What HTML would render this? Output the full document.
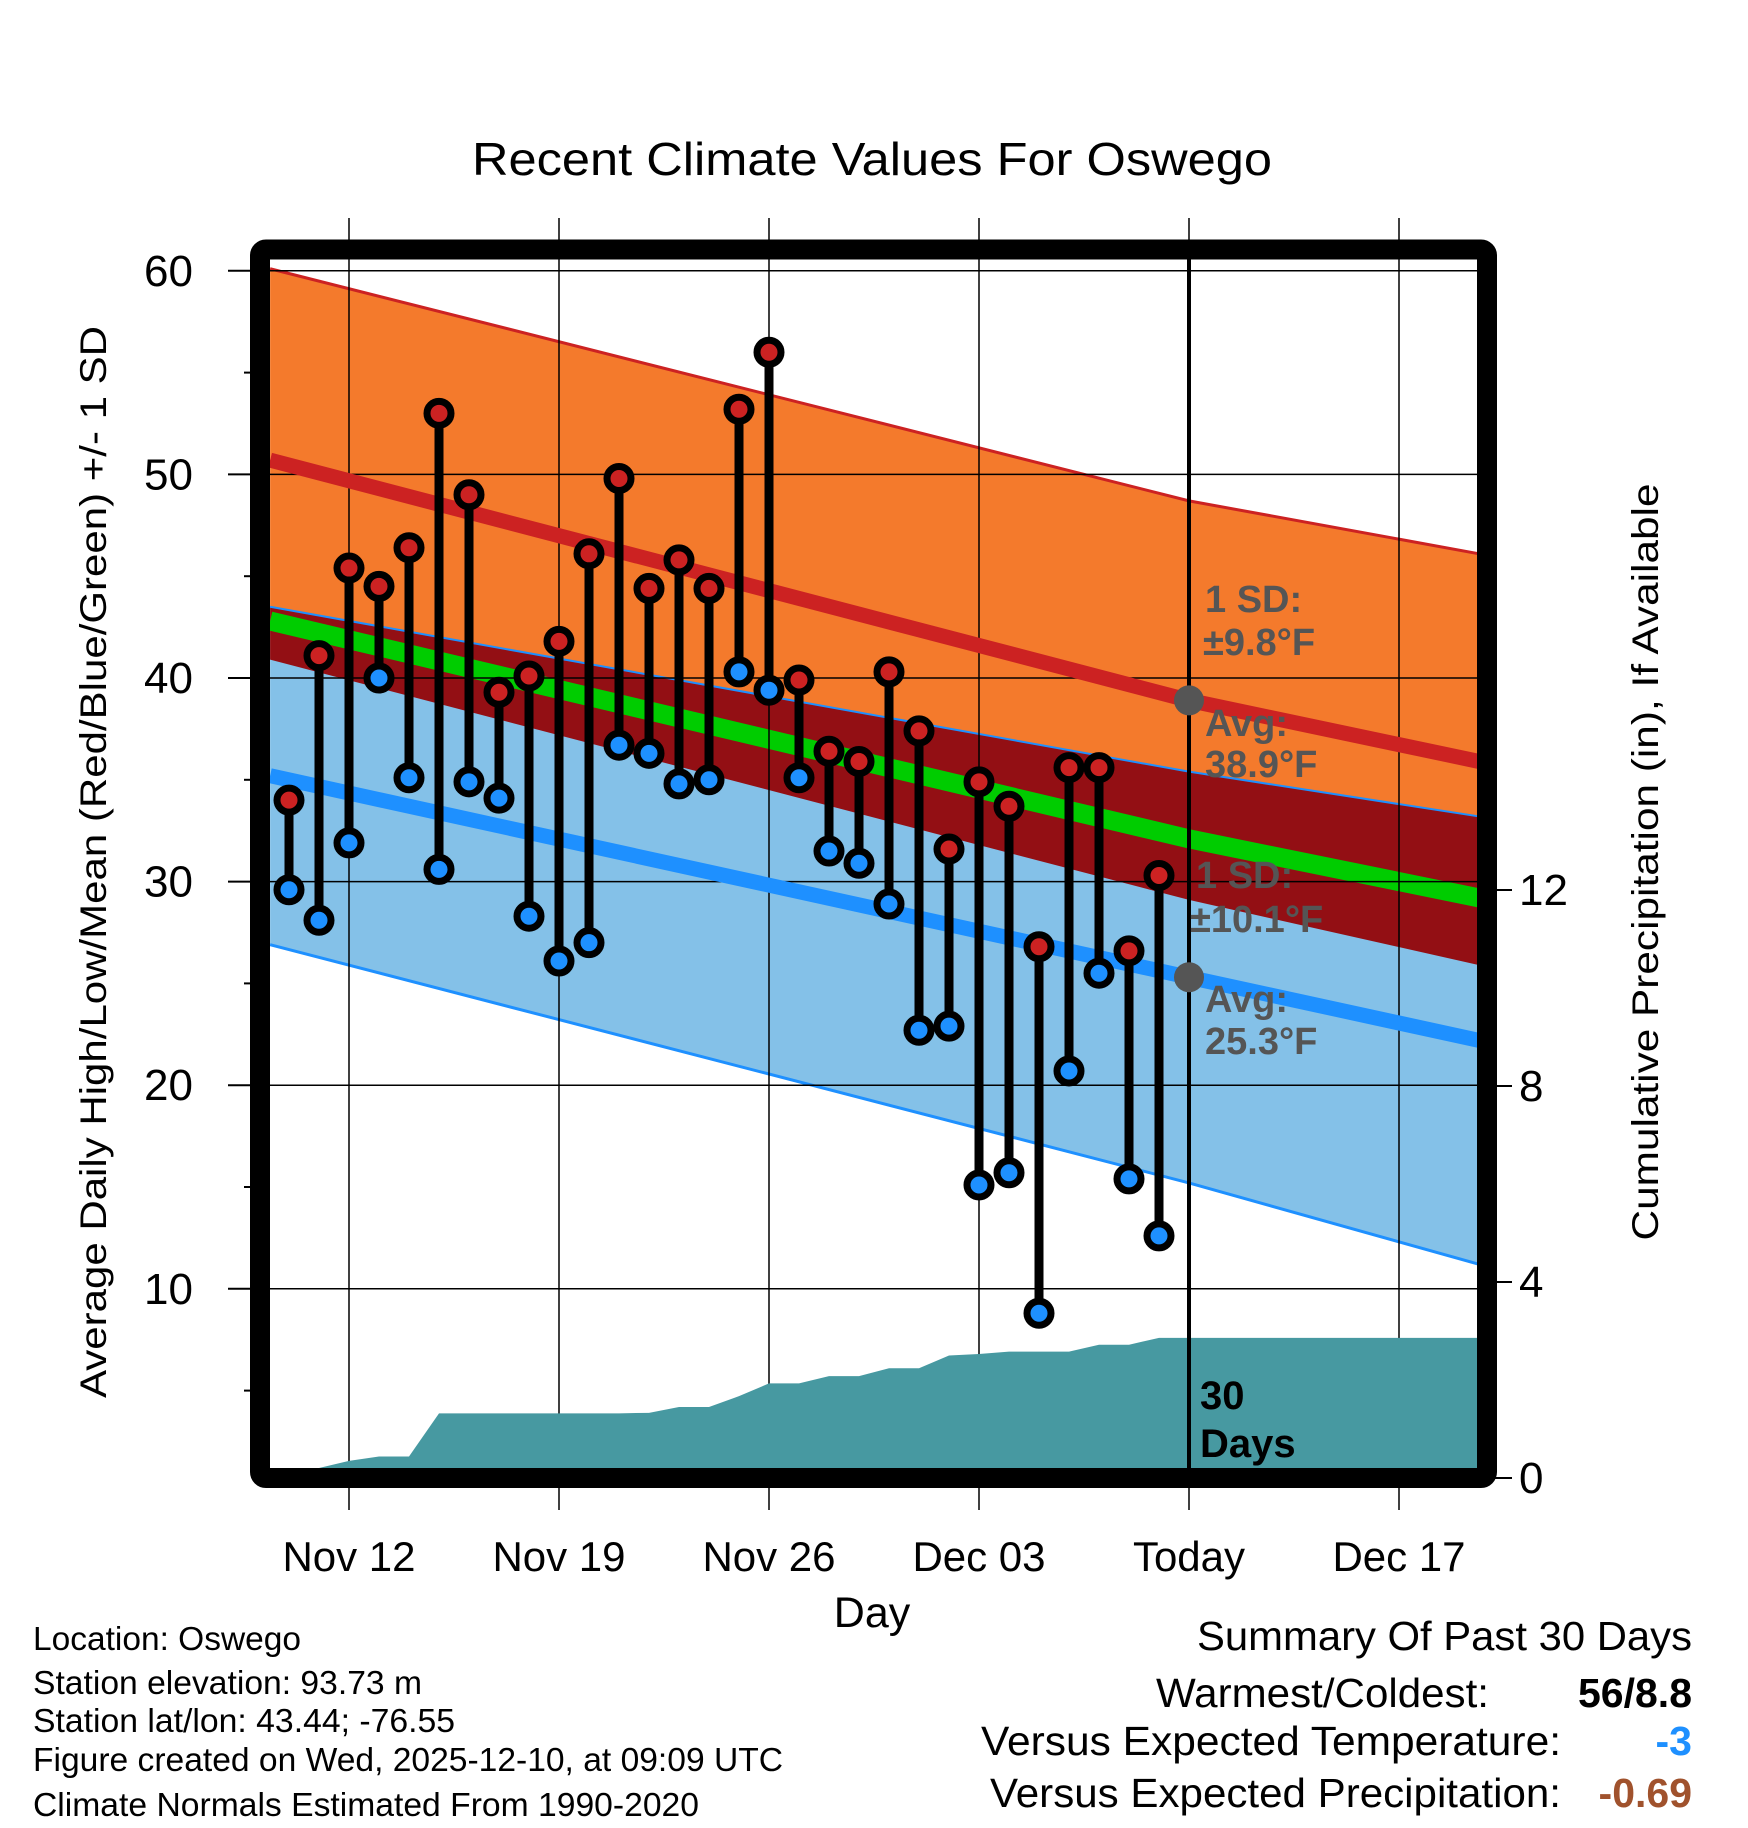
<!DOCTYPE html>
<html><head><meta charset="utf-8"><style>
html,body{margin:0;padding:0;background:#fff}
svg{display:block}
text{font-family:"Liberation Sans",Arial,sans-serif}
</style></head><body>
<svg id="chart" width="1748" height="1828" viewBox="0 0 1748 1828" xmlns="http://www.w3.org/2000/svg">
<g id="bands"></g>
<g id="grid"></g>
<g id="precip"></g>
<g id="normals"></g>
<g id="marks"></g>
<g id="frame"></g>
<g id="labels"></g>
</svg>
<script>
const highs=[34,41.1,45.4,44.5,46.4,53,49,39.3,40.1,41.8,46.1,49.8,44.4,45.8,44.4,53.2,56,39.9,36.4,35.9,40.3,37.4,31.6,34.9,33.7,26.8,35.6,35.6,26.6,30.3];
const lows=[29.6,28.1,31.9,40,35.1,30.6,34.9,34.1,28.3,26.1,27,36.7,36.3,34.8,35,40.3,39.4,35.1,31.5,30.9,28.9,22.7,22.9,15.1,15.7,8.8,20.7,25.5,15.4,12.6];
const precip=[0,0,0.35,0.44,0.44,1.32,1.32,1.32,1.32,1.32,1.32,1.32,1.33,1.45,1.45,1.67,1.93,1.93,2.08,2.08,2.24,2.24,2.5,2.53,2.58,2.58,2.58,2.72,2.72,2.86];
const normDays=[-0.63,30,39.67];
const hiPlusSD=[60.1,48.7,46.1];
const hiAvg=[50.7,38.9,35.9];
const hiMinusSD=[40.9,29.1,25.9];
const meanAvg=[42.8,32.1,29.2];
const loPlusSD=[43.5,35.4,33.2];
const loAvg=[35.2,25.3,22.2];
const loMinusSD=[26.9,15.2,11.2];
const xTickLabels=["Nov 12","Nov 19","Nov 26","Dec 03","Today","Dec 17"];
const xTickDays=[2,9,16,23,30,37];
const yTicks=[10,20,30,40,50,60];
const pTicks=[0,4,8,12];

const NS="http://www.w3.org/2000/svg";
const X=d=>289+30*d;
const Y=t=>270.8+(60-t)*20.36;
const P=v=>1478-v*49;
const L=270,R=1479,T=260,B=1468;
function el(tag,attrs,parent){const e=document.createElementNS(NS,tag);for(const k in attrs)e.setAttribute(k,attrs[k]);parent.appendChild(e);return e;}
const g=id=>document.getElementById(id);
function pts(arr){return normDays.map((d,i)=>X(d)+','+Y(arr[i]));}
function band(top,bot,fill,name){
  const p=el('polygon',{points:pts(top).concat(pts(bot).reverse()).join(' '),fill:fill},g('bands'));
  
  
}
band(hiPlusSD,hiMinusSD,'#f47a2c','high-sd-band');
band(loPlusSD,loMinusSD,'#84c1e8','low-sd-band');
band(loPlusSD,hiMinusSD,'#930f14','overlap-band');
function line(arr,color,w,name,parent){
  const p=el('polyline',{points:pts(arr).join(' '),fill:'none',stroke:color,'stroke-width':w},parent||g('normals'));
  
  
}
line(meanAvg,'#00cc00',19,'mean-normal-line',g('bands'));
line(hiPlusSD,'#cc2222',3,'high-plus-sd-line',g('bands'));
line(loPlusSD,'#1e90ff',2,'low-plus-sd-line',g('bands'));
line(loMinusSD,'#1e90ff',3,'low-minus-sd-line',g('bands'));

const grid=g('grid');
yTicks.forEach(t=>{
  const l=el('line',{x1:L,x2:R,y1:Y(t),y2:Y(t),stroke:'#000','stroke-width':1.5},grid);
  
  
  const tk=el('line',{x1:228,x2:252,y1:Y(t),y2:Y(t),stroke:'#000','stroke-width':2},grid);
  
  
});
[5,15,25,35,45,55].forEach(t=>{
  const tk=el('line',{x1:244,x2:252,y1:Y(t),y2:Y(t),stroke:'#000','stroke-width':2},grid);
  
  
});
xTickDays.forEach(d=>{
  const l=el('line',{x1:X(d),x2:X(d),y1:218,y2:1510,stroke:'#000','stroke-width':1.5},grid);
  
  
});
pTicks.forEach(v=>{
  const tk=el('line',{x1:1492,x2:1512,y1:P(v),y2:P(v),stroke:'#000','stroke-width':2},grid);
  
  
});

let pp=[X(0)+','+B];
precip.forEach((v,i)=>pp.push(X(i)+','+Math.min(B,P(v))));
pp.push(R+','+P(precip[precip.length-1]));
pp.push(R+','+B);
const pa=el('polygon',{points:pp.join(' '),fill:'#4799a1'},g('precip'));



line(hiAvg,'#cc2222',15,'avg-high-line');
line(loAvg,'#1e90ff',15,'avg-low-line');

const tl=el('line',{x1:X(30),x2:X(30),y1:250,y2:1468,stroke:'#000','stroke-width':4},g('normals'));



const mk=g('marks');
highs.forEach((h,i)=>{
  const s=el('line',{x1:X(i),x2:X(i),y1:Y(h),y2:Y(lows[i]),stroke:'#000','stroke-width':9},mk);
  
  
});
highs.forEach((h,i)=>{
  const c=el('circle',{cx:X(i),cy:Y(h),r:12,fill:'#cc2222',stroke:'#000','stroke-width':7},mk);
  
  
  const c2=el('circle',{cx:X(i),cy:Y(lows[i]),r:12,fill:'#1e90ff',stroke:'#000','stroke-width':7},mk);
  
  
});
const d1=el('circle',{cx:X(30),cy:Y(hiAvg[1]),r:15,fill:'#555'},mk);


const d2=el('circle',{cx:X(30),cy:Y(loAvg[1]),r:15,fill:'#555'},mk);



const fr=el('rect',{x:260,y:249.5,width:1227,height:1228.5,fill:'none',stroke:'#000','stroke-width':20,rx:6},g('frame'));



const lb=g('labels');
function txt(s,attrs,name){const t=el('text',attrs,lb);t.textContent=s;return t;}
yTicks.forEach(t=>txt(String(t),{x:193,y:Y(t)+15,'font-size':44,'text-anchor':'end'},'y-tick-label'));
pTicks.forEach(v=>txt(String(v),{x:1519,y:P(v)+15,'font-size':44},'precip-tick-label'));
xTickLabels.forEach((s,i)=>txt(s,{x:X(xTickDays[i]),y:1571,'font-size':42,'text-anchor':'middle'},'x-tick-label'));
</script>
<script>
const lb2=document.getElementById('labels');
lb2.insertAdjacentHTML('beforeend',`
<text x="872" y="175" font-size="46" text-anchor="middle" textLength="800" lengthAdjust="spacingAndGlyphs">Recent Climate Values For Oswego</text>
<text transform="translate(106,862) rotate(-90)" font-size="37" text-anchor="middle" textLength="1072" lengthAdjust="spacingAndGlyphs">Average Daily High/Low/Mean (Red/Blue/Green) +/- 1 SD</text>
<text transform="translate(1658,862) rotate(-90)" font-size="37" text-anchor="middle" textLength="757" lengthAdjust="spacingAndGlyphs">Cumulative Precipitation (in), If Available</text>
<text x="872" y="1627" font-size="43" text-anchor="middle">Day</text>
<g font-weight="bold" font-size="38" fill="#555">
<text x="1205" y="612">1 SD:</text>
<text x="1203" y="655">±9.8°F</text>
<text x="1205" y="736">Avg:</text>
<text x="1205" y="777">38.9°F</text>
<text x="1196" y="888">1 SD:</text>
<text x="1190" y="932">±10.1°F</text>
<text x="1205" y="1012">Avg:</text>
<text x="1205" y="1054">25.3°F</text>
</g>
<text x="1200" y="1409" font-size="40" font-weight="bold">30</text>
<text x="1200" y="1457" font-size="40" font-weight="bold">Days</text>
<g font-size="33">
<text x="33" y="1650" textLength="268" lengthAdjust="spacingAndGlyphs">Location: Oswego</text>
<text x="33" y="1694" textLength="389" lengthAdjust="spacingAndGlyphs">Station elevation: 93.73 m</text>
<text x="33" y="1732" textLength="422" lengthAdjust="spacingAndGlyphs">Station lat/lon: 43.44; -76.55</text>
<text x="33" y="1771" textLength="750" lengthAdjust="spacingAndGlyphs">Figure created on Wed, 2025-12-10, at 09:09 UTC</text>
<text x="33" y="1816" textLength="666" lengthAdjust="spacingAndGlyphs">Climate Normals Estimated From 1990-2020</text>
</g>
<g font-size="41" text-anchor="end">
<text x="1692" y="1650" textLength="495" lengthAdjust="spacingAndGlyphs">Summary Of Past 30 Days</text>
<text x="1489" y="1707" textLength="333" lengthAdjust="spacingAndGlyphs">Warmest/Coldest:</text>
<text x="1692" y="1707" font-weight="bold" textLength="114" lengthAdjust="spacingAndGlyphs">56/8.8</text>
<text x="1561" y="1755" textLength="580" lengthAdjust="spacingAndGlyphs">Versus Expected Temperature:</text>
<text x="1692" y="1755" font-weight="bold" fill="#1e90ff">-3</text>
<text x="1561" y="1807" textLength="571" lengthAdjust="spacingAndGlyphs">Versus Expected Precipitation:</text>
<text x="1692" y="1807" font-weight="bold" fill="#a0522d">-0.69</text>
</g>`);
</script>
</body></html>
